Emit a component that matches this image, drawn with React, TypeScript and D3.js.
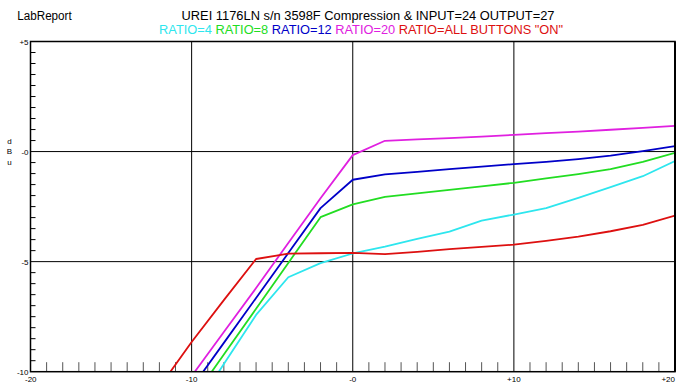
import React from "react";
import * as d3 from "d3";

const inputDb = [-12, -10, -8, -6, -4, -2, 0, 2, 4, 6, 8, 10, 12, 14, 16, 18, 20];
const ratio4 = [null, -11.9, -9.65, -7.42, -5.71, -5.07, -4.63, -4.32, -3.97, -3.64, -3.14, -2.86, -2.57, -2.1, -1.62, -1.12, -0.43];
const ratio8 = [null, -11.3, -9.22, -7.14, -5.06, -2.98, -2.4, -2.06, -1.9, -1.74, -1.58, -1.42, -1.22, -1.02, -0.8, -0.47, -0.06];
const ratio12 = [null, -10.73, -8.69, -6.65, -4.61, -2.57, -1.28, -1.04, -0.92, -0.8, -0.68, -0.57, -0.47, -0.34, -0.18, 0.02, 0.25];
const ratio20 = [null, -10.2, -8.2, -6.2, -4.15, -2.12, -0.16, 0.49, 0.55, 0.61, 0.68, 0.76, 0.84, 0.91, 0.99, 1.08, 1.17];
const ratioAll = [-10.7, -8.65, -6.75, -4.88, -4.64, -4.62, -4.6, -4.66, -4.56, -4.43, -4.33, -4.23, -4.06, -3.86, -3.62, -3.33, -2.91];

const seriesNames = ["RATIO=4", "RATIO=8", "RATIO=12", "RATIO=20", 'RATIO=ALL BUTTONS "ON"'];
const seriesColors = ["#2ee6ee", "#22dd22", "#0000c8", "#e020e0", "#dd1010"];
const seriesValues = [ratio4, ratio8, ratio12, ratio20, ratioAll];

const xTicks = [-20, -10, 0, 10, 20];
const xTickLabels = ["-20", "-10", "-0", "+10", "+20"];
const yTicks = [5, 0, -5, -10];
const yTickLabels = ["+5", "-0", "-5", "-10"];
const titleText = "UREI 1176LN s/n 3598F Compression & INPUT=24 OUTPUT=27";
const brandText = "LabReport";
const yAxisLetters = ["d", "B", "u"];

const W = 686, H = 389;
const L = 30.5, R = 675, T = 41.5, B = 371.7;

export default function App() {
  const x = d3.scaleLinear().domain([-20, 20]).range([L, R]);
  const y = d3.scaleLinear().domain([-10, 5]).range([B, T]);
  const line = d3
    .line<number | null>()
    .defined((d) => d !== null)
    .x((_, i) => x(inputDb[i]))
    .y((d) => y(d as number));

  const minorX = d3.range(-19, 20, 1).filter((v) => v % 10 !== 0);
  const minorY = d3.range(-9.5, 5, 0.5).filter((v) => v % 5 !== 0);

  const font = "'Liberation Sans', Arial, sans-serif";

  return (
    <svg width={W} height={H} style={{ position: "absolute", left: 0, top: 0, background: "#fff" }} fontFamily={font}>
      <rect x={0} y={0} width={W} height={H} fill="#fff" />
      <defs>
        <clipPath id="plot">
          <rect x={L} y={T} width={R - L} height={B - T} />
        </clipPath>
      </defs>
      <text x={17.3} y={20.3} fontSize={12} textLength={54.4} lengthAdjust="spacingAndGlyphs" fill="#000">
        {brandText}
      </text>
      <text x={181.5} y={20.3} fontSize={12} textLength={373} lengthAdjust="spacingAndGlyphs" fill="#000">
        {titleText}
      </text>
      <text x={159.1} y={34} fontSize={12} textLength={404} lengthAdjust="spacingAndGlyphs" fill="#000">
        {seriesNames.map((n, i) => (
          <tspan key={n} fill={seriesColors[i]}>
            {n + (i < seriesNames.length - 1 ? " " : "")}
          </tspan>
        ))}
      </text>

      {/* grid */}
      {[-10, 0, 10].map((v) => (
        <line key={"gx" + v} x1={x(v)} x2={x(v)} y1={T} y2={B} stroke="#000" strokeWidth={1} />
      ))}
      {[0, -5].map((v) => (
        <line key={"gy" + v} x1={L} x2={R} y1={y(v)} y2={y(v)} stroke="#000" strokeWidth={1} />
      ))}
      {minorX.map((v) => (
        <line key={"mx" + v} x1={x(v)} x2={x(v)} y1={B} y2={B - 9.5} stroke="#555" strokeWidth={1} />
      ))}
      {minorY.map((v) => (
        <line key={"my" + v} x1={L} x2={L + 5} y1={y(v)} y2={y(v)} stroke="#000" strokeWidth={1} />
      ))}

      <g clipPath="url(#plot)">
        {seriesValues.map((vals, i) => (
          <path key={i} d={line(vals) || ""} fill="none" stroke={seriesColors[i]} strokeWidth={1.8} strokeLinejoin="round" />
        ))}
      </g>

      <rect x={L} y={T} width={R - L} height={B - T} fill="none" stroke="#000" strokeWidth={1.5} />
      <line x1={R} x2={R} y1={T} y2={B} stroke="#000" strokeWidth={2} />

      {yTicks.map((v, i) => (
        <text key={"yl" + v} x={28.5} y={y(v) + 3} fontSize={8} textAnchor="end" fill="#000">
          {yTickLabels[i]}
        </text>
      ))}
      {xTicks.map((v, i) => (
        <text
          key={"xl" + v}
          x={v === -20 ? 25 : v === 20 ? 675 : x(v)}
          y={382}
          fontSize={8}
          textAnchor={v === -20 ? "start" : v === 20 ? "end" : "middle"}
          fill="#000"
        >
          {xTickLabels[i]}
        </text>
      ))}
      {yAxisLetters.map((c, i) => (
        <text key={"ya" + i} x={9.5} y={144 + i * 10.3} fontSize={8} textAnchor="middle" fill="#000">
          {c}
        </text>
      ))}
    </svg>
  );
}
